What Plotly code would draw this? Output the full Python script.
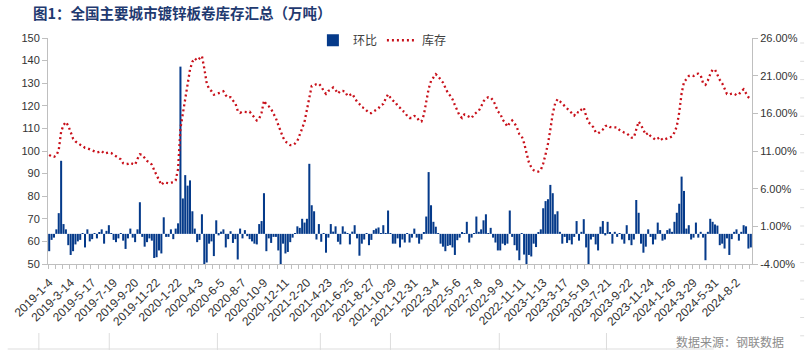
import plotly.graph_objects as go
from datetime import date, timedelta

# ---------------- data ----------------
tick_labels = [
    "2019-1-4", "2019-3-14", "2019-5-17", "2019-7-19", "2019-9-20", "2019-11-22",
    "2020-1-22", "2020-4-3", "2020-6-5", "2020-8-7", "2020-10-9", "2020-12-11",
    "2021-2-20", "2021-4-23", "2021-6-25", "2021-8-27", "2021-10-29", "2021-12-31",
    "2022-3-4", "2022-5-6", "2022-7-8", "2022-9-9", "2022-11-11", "2023-1-13",
    "2023-3-17", "2023-5-19", "2023-7-21", "2023-9-22", "2023-11-24", "2024-1-26",
    "2024-3-29", "2024-5-31", "2024-8-2",
]

# 库存 (万吨), weekly
inventory = [
    98.3, 97.6, 97.4, 98.0, 100.5, 108.5, 111.5, 112.8, 111.2, 108.0,
    105.5, 104.2, 103.4, 102.8, 102.3, 101.4, 101.2, 100.7, 100.1, 99.7,
    99.4, 99.6, 100.0, 98.9, 99.2, 99.4, 99.1, 98.4, 97.4, 96.8,
    96.3, 94.6, 94.2, 94.3, 94.8, 94.3, 94.0, 96.5, 98.5, 98.3,
    96.8, 95.6, 95.0, 94.0, 91.5, 89.4, 87.0, 85.0, 86.2, 85.8,
    85.7, 86.0, 86.2, 87.0, 92.0, 110.0, 117.0, 122.5, 130.0, 136.0,
    139.5, 141.0, 140.0, 141.0, 142.0, 136.5, 130.0, 127.5, 126.5, 124.9,
    125.2, 125.3, 125.9, 126.4, 124.6, 123.6, 123.8, 122.3, 121.2, 117.8,
    116.9, 117.4, 117.2, 117.2, 117.4, 116.0, 114.6, 113.5, 114.3, 117.0,
    122.3, 120.6, 119.8, 118.6, 116.5, 114.5, 111.5, 108.5, 106.0, 104.2,
    103.2, 102.6, 102.6, 103.3, 104.5, 107.0, 110.0, 113.0, 118.0, 124.5,
    128.8, 129.0, 129.6, 129.8, 128.6, 126.6, 125.3, 126.6, 127.1, 128.1,
    127.0, 125.4, 126.6, 126.6, 126.3, 124.3, 124.8, 125.3, 123.5, 121.8,
    120.8, 119.4, 119.0, 117.9, 116.8, 116.8, 117.5, 118.0, 118.9, 120.3,
    120.8, 123.2, 125.1, 123.6, 122.3, 121.8, 119.9, 119.1, 117.8, 117.2,
    115.5, 114.6, 114.6, 115.5, 115.1, 113.3, 113.1, 116.0, 122.0, 127.5,
    131.0, 132.7, 134.0, 133.0, 131.5, 130.3, 128.0, 125.8, 124.5, 122.9,
    120.3, 117.5, 115.6, 114.6, 116.2, 115.7, 115.2, 114.6, 116.2, 117.0,
    117.8, 119.6, 122.0, 123.2, 123.8, 123.7, 122.4, 120.3, 117.5, 116.6,
    113.9, 112.5, 110.8, 112.5, 113.5, 112.3, 110.4, 107.5, 106.6, 103.5,
    99.0, 95.0, 92.8, 91.5, 90.9, 90.9, 91.6, 94.4, 98.5, 103.2,
    109.5, 116.5, 121.0, 122.9, 122.0, 121.0, 119.7, 118.7, 117.8, 116.8,
    115.7, 117.3, 116.9, 118.3, 119.2, 115.5, 112.8, 111.6, 110.5, 108.3,
    107.8, 108.6, 109.5, 111.0, 111.4, 110.6, 110.5, 110.5, 110.4, 109.3,
    108.5, 108.1, 107.8, 106.7, 105.9, 106.0, 109.8, 113.0, 111.5, 109.6,
    107.2, 108.0, 106.6, 105.9, 104.9, 105.5, 106.2, 104.9, 105.2, 105.6,
    105.9, 106.5, 108.2, 111.0, 117.0, 125.5, 130.5, 131.8, 133.2, 133.5,
    133.2, 134.1, 134.2, 133.5, 130.0, 129.3, 131.2, 134.0, 136.0, 136.0,
    133.5, 131.5, 130.0, 127.5, 125.2, 125.0, 125.4, 125.4, 124.7, 125.0,
    126.5, 127.3, 125.6, 123.8, 122.9,
]

# 环比 (%), weekly
mom = [
    -2.3, -0.8, -0.5, 0.6, 2.75, 9.7, 1.3, 0.6, -1.5, -2.8,
    -2.3, -1.4, -1.0, -0.8, 0.1, -1.8, 0.6, -1.0, -0.7, 0.1,
    -0.6, 0.25, 0.6, -1.3, 0.4, 1.15, 0.1, -0.8, -1.1, -0.6,
    0.05, -0.9, -2.0, -0.6, 0.7, -0.5, -1.1, 0.6, 4.2, -0.4,
    -1.7, -1.1, -0.6, -0.9, -3.2, -3.1, -2.2, -2.6, 2.2, -0.4,
    -0.4, 0.6, -0.7, 0.7, 1.4, 22.2, 4.7, 7.8, 6.4, 7.1,
    3.0, 0.7, -1.1, -0.8, 2.6, -4.0, -3.8, -1.3, -1.0, -2.95,
    1.8, -0.2, 0.3, 0.6, -1.8, -0.7, 0.35, -1.2, -0.7, -3.4,
    0.7, -0.6, 0.5, -0.3, -0.7, -1.0, -1.3, -1.4, 1.3, 1.7,
    5.4, -2.3, -0.6, -1.2, -0.4, -0.4, -2.2, -4.0, -1.3, -2.6,
    -2.4, -1.1, -0.5, 0.1, 1.0, 0.8, 2.0, 1.5, 2.0, 9.3,
    3.8, 3.0, -0.75, 1.3, -1.05, 0.1, -2.5, -0.5, 1.3, 0.3,
    1.0, -1.05, -1.4, 1.0, 0.3, 0.05, -1.4, 0.3, 1.15, -0.6,
    -2.9, -1.3, -0.75, 0.05, -1.5, -0.8, 0.5, 0.7, 0.85, 0.05,
    1.15, 0.05, 3.1, 0.1, -1.3, -1.3, -0.6, -1.8, -0.75, -1.15,
    0.05, -1.15, -0.5, 0.7, -0.5, -1.3, -0.75, 0.15, 2.3, 8.2,
    3.8, 1.6, 0.95, 0.05, -1.3, -1.7, -2.3, -1.6, -1.5, -1.8,
    -2.8, -0.84, -0.5, 0.15, 0.05, 1.6, -1.15, -0.5, 0.05, 2.3,
    0.27, 0.6, 1.8, 2.6, 0.05, 0.8, -0.5, -1.15, -2.2, -2.2,
    -1.3, -1.5, -1.3, 3.1, -0.4, -1.5, -2.2, -3.5, 0.05, -2.75,
    -4.0, -2.8, -3.0, -1.3, -1.75, 0.2, 0.6, 3.4, 4.35, 4.6,
    6.5, 5.4, 2.6, 3.0, 0.27, -1.3, -0.4, -1.2, -0.84, -1.4,
    -0.4, 1.7, -0.9, 0.27, 1.95, -1.8, -4.0, -0.75, -0.4, -1.4,
    -2.2, 0.95, 1.7, -0.2, 1.6, 0.15, -1.3, 0.27, -0.4, 0.05,
    -0.75, -1.3, 1.15, -0.84, -1.5, -0.75, 4.5, 2.8, -1.3, -2.5,
    -1.7, 0.6, -0.4, -1.4, -0.75, 1.5, 0.5, -0.9, -0.75, 0.5,
    0.7, 0.27, 1.6, 2.8, 4.0, 7.6, 5.7, 0.7, 1.15, -0.75,
    -0.5, 1.5, -0.5, 0.27, -0.5, -3.5, 0.27, 2.0, 1.6, 1.25,
    1.1, -1.5, -1.3, -1.95, -0.6, -2.8, -0.7, 0.27, 0.6, -0.9,
    0.27, 1.15, 1.0, -1.95, -1.8,
]

right_ticks = [-4, 1, 6, 11, 16, 21, 26]

# ---------------- build ----------------
N = len(inventory)


def _parse(s):
    y, m, d = (int(v) for v in s.split("-"))
    return date(y, m, d)


dates = []
for lab in tick_labels:
    d0 = _parse(lab)
    for k in range(9):
        d = d0 + timedelta(days=7 * k)
        dates.append(f"{d.year}-{d.month}-{d.day}")
dates = dates[:N]
idx = list(range(N))
label_pos = [dates.index(l) for l in tick_labels]

BLUE = "#053a8a"
RED = "#c8101a"
AXIS = "#bfbfbf"
TXT = "#333333"
CJK = "Noto Sans CJK SC"
LAT = "Liberation Sans, Arial"

# plot-area geometry (pixels)
L, R, T, B = 41, 53, 38, 86
PW, PH = 810 - L - R, 350 - T - B


def px(xp):
    return (xp - L) / PW


def py(yp):
    return (350 - B - yp) / PH


fig = go.Figure()
fig.add_trace(go.Bar(
    x=idx, y=mom, name="环比", marker=dict(color=BLUE, line=dict(width=0)),
    yaxis="y", hovertext=dates,
))
fig.add_trace(go.Scatter(
    x=idx, y=inventory, name="库存", mode="lines", yaxis="y2",
    line=dict(color=RED, width=2.3, dash="2px,3px"), hovertext=dates,
))

fig.update_layout(
    width=810, height=350,
    margin=dict(l=L, r=R, t=T, b=B),
    paper_bgcolor="white", plot_bgcolor="white",
    bargap=0.15,
    showlegend=True,
    legend=dict(orientation="h", x=0.475, xanchor="center", y=0.99, yanchor="middle",
                font=dict(family=CJK, size=12, color="#404040"),
                bgcolor="rgba(0,0,0,0)", itemwidth=30, tracegroupgap=0),
    xaxis=dict(
        range=[-0.5, N - 0.5], tickmode="array", tickvals=label_pos, ticktext=tick_labels,
        tickangle=-45, ticks="", showgrid=False, zeroline=False,
        showline=True, linecolor=AXIS, linewidth=1, ticklabelstandoff=6,
        tickfont=dict(family=LAT, size=12, color=TXT),
        minor=dict(tickmode="linear", tick0=-0.5, dtick=3, ticks="outside",
                   ticklen=4, tickcolor=AXIS, showgrid=False),
    ),
    yaxis=dict(
        side="right", range=[-4, 26], tickmode="array", tickvals=right_ticks,
        ticktext=[f"{v:.2f}%" for v in right_ticks],
        ticks="outside", ticklen=5, tickcolor=AXIS, showline=True, linecolor=AXIS,
        showgrid=False, zeroline=False,
        tickfont=dict(family=LAT, size=11, color=TXT),
    ),
    yaxis2=dict(
        side="left", overlaying="y", range=[50, 150], dtick=10,
        ticks="outside", ticklen=5, tickcolor=AXIS, showline=True, linecolor=AXIS,
        showgrid=False, zeroline=False,
        tickfont=dict(family=LAT, size=11, color=TXT),
    ),
)

# title
fig.add_annotation(
    text="<b>图1：全国主要城市镀锌板卷库存汇总（万吨）</b>", xref="paper", yref="paper",
    x=px(24), xanchor="left", y=py(13), yanchor="middle", showarrow=False,
    font=dict(family=CJK, size=14.5, color="#1f3a70"),
)
# source
fig.add_annotation(
    text="数据来源：钢联数据", xref="paper", yref="paper",
    x=px(792), xanchor="right", y=py(341), yanchor="middle",
    showarrow=False, font=dict(family=CJK, size=12, color="#8c8c8c"),
)

# faint spreadsheet cell borders around the picture
GRID = "#dddddd"
for xv in [31.7, 103.3, 213.3, 318, 389.3, 500, 609]:
    fig.add_shape(type="line", xref="paper", yref="paper",
                  x0=px(xv), x1=px(xv), y0=py(333), y1=py(350),
                  line=dict(color=GRID, width=1), layer="below")
fig.add_shape(type="line", xref="paper", yref="paper",
              x0=px(0), x1=px(718), y0=py(349), y1=py(349),
              line=dict(color=GRID, width=1), layer="below")
for k in range(17):
    yv = 43 + 18.3 * k
    fig.add_shape(type="line", xref="paper", yref="paper",
                  x0=px(806), x1=px(810), y0=py(yv), y1=py(yv),
                  line=dict(color=GRID, width=1), layer="below")

fig.write_html("out.html")
